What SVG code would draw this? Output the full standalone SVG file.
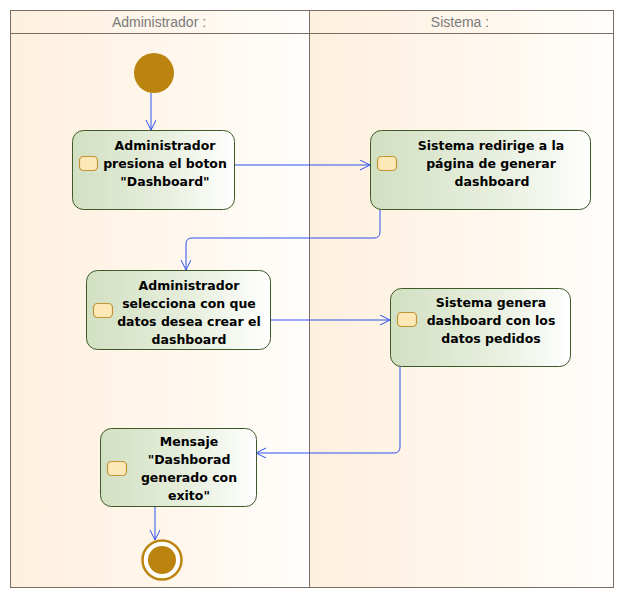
<svg xmlns="http://www.w3.org/2000/svg" width="624" height="598" viewBox="0 0 624 598">
<defs>
<linearGradient id="lane" x1="0" y1="0" x2="1" y2="0">
<stop offset="0" stop-color="#fef0de"/>
<stop offset="0.6" stop-color="#fff7ee"/>
<stop offset="1" stop-color="#fffefc"/>
</linearGradient>
<linearGradient id="node" x1="0" y1="0" x2="1" y2="0">
<stop offset="0" stop-color="#d2e0c2"/>
<stop offset="0.55" stop-color="#e6eedc"/>
<stop offset="1" stop-color="#ffffff"/>
</linearGradient>
<marker id="arr" markerWidth="12" markerHeight="12" refX="10" refY="5" orient="auto" markerUnits="userSpaceOnUse">
<path d="M0,0 L10,5 L0,10" fill="none" stroke="#2c50f0" stroke-width="1"/>
</marker>
</defs>
<style>
.lane{fill:url(#lane);stroke:#7a6e62;stroke-width:1}
.hdr{font-family:"Liberation Sans",Arial,sans-serif;font-size:14px;fill:#7a7a7a;text-anchor:middle}
.act{fill:url(#node);stroke:#3d5a28;stroke-width:1}
.pin{fill:#fde9b8;stroke:#c29434;stroke-width:1.2}
.lbl{font-family:"DejaVu Sans",Tahoma,sans-serif;font-size:12.5px;font-weight:bold;fill:#000;text-anchor:middle}
.con{fill:none;stroke:#2c50f0;stroke-width:1;marker-end:url(#arr)}
</style>
<rect x="0" y="0" width="624" height="598" fill="#ffffff"/>
<g id="lane-admin">
<rect class="lane" x="10.5" y="10.5" width="299" height="577"/>
<line x1="10.5" y1="33.5" x2="309.5" y2="33.5" stroke="#7a6e62"/>
<text class="hdr" x="159" y="27">Administrador :</text>
</g>
<g id="lane-sistema">
<rect class="lane" x="309.5" y="10.5" width="304" height="577"/>
<line x1="309.5" y1="33.5" x2="613.5" y2="33.5" stroke="#7a6e62"/>
<text class="hdr" x="460" y="27">Sistema :</text>
</g>
<g id="connectors">
<path class="con" d="M151,93 V130"/>
<path class="con" d="M234,165 H370"/>
<path class="con" d="M380,209 V232 Q380,238 374,238 H192 Q186,238 186,244 V270"/>
<path class="con" d="M270,320 H390"/>
<path class="con" d="M400,366 V447 Q400,453 394,453 H256"/>
<path class="con" d="M155,506 V540"/>
</g>
<g id="start">
<circle cx="154" cy="73" r="20" fill="#bb840f"/>
</g>
<g id="a1">
<rect class="act" x="72.5" y="130.5" width="162" height="79" rx="11"/>
<rect class="pin" x="79.5" y="156.5" width="18" height="14" rx="4"/>
<text class="lbl" x="165" y="150">Administrador</text>
<text class="lbl" x="165" y="168">presiona el boton</text>
<text class="lbl" x="165" y="186">"Dashboard"</text>
</g>
<g id="s1">
<rect class="act" x="370.5" y="130.5" width="220" height="79" rx="11"/>
<rect class="pin" x="377.5" y="156.5" width="19" height="14" rx="4"/>
<text class="lbl" x="491" y="150">Sistema redirige a la</text>
<text class="lbl" x="491" y="168">página de generar</text>
<text class="lbl" x="492" y="186">dashboard</text>
</g>
<g id="a2">
<rect class="act" x="86.5" y="270.5" width="184" height="79" rx="11"/>
<rect class="pin" x="93.5" y="303.5" width="19" height="14" rx="4"/>
<text class="lbl" x="189" y="290">Administrador</text>
<text class="lbl" x="189" y="308">selecciona con que</text>
<text class="lbl" x="189" y="326">datos desea crear el</text>
<text class="lbl" x="189" y="344">dashboard</text>
</g>
<g id="s2">
<rect class="act" x="390.5" y="288.5" width="180" height="78" rx="11"/>
<rect class="pin" x="397.5" y="312.5" width="19" height="14" rx="4"/>
<text class="lbl" x="491" y="307">Sistema genera</text>
<text class="lbl" x="491" y="325">dashboard con los</text>
<text class="lbl" x="491" y="343">datos pedidos</text>
</g>
<g id="a3">
<rect class="act" x="100.5" y="428.5" width="156" height="78" rx="11"/>
<rect class="pin" x="107.5" y="461.5" width="19" height="14" rx="4"/>
<text class="lbl" x="189" y="446">Mensaje</text>
<text class="lbl" x="189" y="464">"Dashborad</text>
<text class="lbl" x="189" y="482">generado con</text>
<text class="lbl" x="189" y="500">exito"</text>
</g>
<g id="end">
<circle cx="162" cy="560" r="19.5" fill="#ffffff" stroke="#bb840f" stroke-width="2.5"/>
<circle cx="162" cy="560" r="14" fill="#bb840f"/>
</g>
</svg>
